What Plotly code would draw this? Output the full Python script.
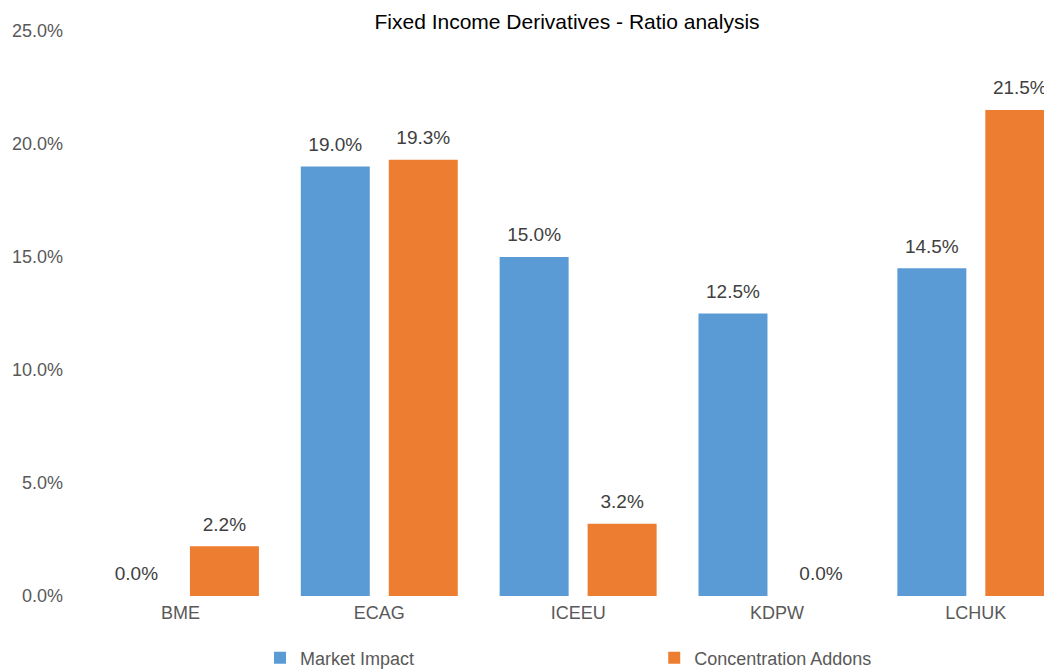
import plotly.graph_objects as go

categories = ["BME", "ECAG", "ICEEU", "KDPW", "LCHUK"]
market_impact = [0.0, 0.190, 0.150, 0.125, 0.145]
concentration_addons = [0.022, 0.193, 0.032, 0.0, 0.215]
y_ticks = [0, 0.05, 0.10, 0.15, 0.20, 0.25]

FONT = "Liberation Sans, Arial, sans-serif"
# page body has an 8px margin, so the figure is sized/placed to compensate

fig = go.Figure()
series = [
    ("Market Impact", market_impact, "#5B9BD5", "legend"),
    ("Concentration Addons", concentration_addons, "#ED7D31", "legend2"),
]
for name, values, color, leg in series:
    fig.add_trace(go.Bar(
        name=name, x=categories, y=values, legend=leg,
        marker=dict(color=color, line=dict(width=0)),
        hoverinfo="skip",
    ))
# value labels: invisible markers push the text up off the bar tops
for name, values, color, leg in series:
    fig.add_trace(go.Scatter(
        x=categories, y=values, mode="markers+text",
        marker=dict(size=16, opacity=0),
        texttemplate="%{y:.1%}", textposition="top center",
        textfont=dict(size=19, color="#404040", family=FONT),
        showlegend=False, cliponaxis=False, hoverinfo="skip",
    ))

fig.update_layout(
    width=1044, height=663,
    margin=dict(l=73, r=0, t=23, b=75, autoexpand=False),
    paper_bgcolor="white", plot_bgcolor="white",
    barmode="group", bargap=0.115, bargroupgap=0.216,
    scattermode="group", scattergap=0.115,
    font=dict(family=FONT, size=18, color="#595959"),
    title=dict(text="Fixed Income Derivatives - Ratio analysis",
               x=0.5355, xanchor="center", y=0.98, yanchor="middle",
               font=dict(size=21, color="#000000", family=FONT)),
    legend=dict(orientation="h", xref="container", yref="container",
                x=0.2414, xanchor="left", y=0.0196, yanchor="middle",
                font=dict(size=18, color="#595959"), itemclick=False),
    legend2=dict(orientation="h", xref="container", yref="container",
                 x=0.619, xanchor="left", y=0.0196, yanchor="middle",
                 font=dict(size=18, color="#595959"), itemclick=False),
    showlegend=True,
)
fig.update_xaxes(range=[-0.5, 4.383], showgrid=False, showline=False,
                 ticks="", ticklabelstandoff=4,
                 tickfont=dict(size=18, color="#595959"))
fig.update_yaxes(range=[0, 0.25], tickvals=y_ticks, tickformat=".1%",
                 showgrid=False, zeroline=False, showline=False,
                 ticklabelstandoff=17, tickfont=dict(size=18, color="#595959"))

fig.write_html("out.html")
